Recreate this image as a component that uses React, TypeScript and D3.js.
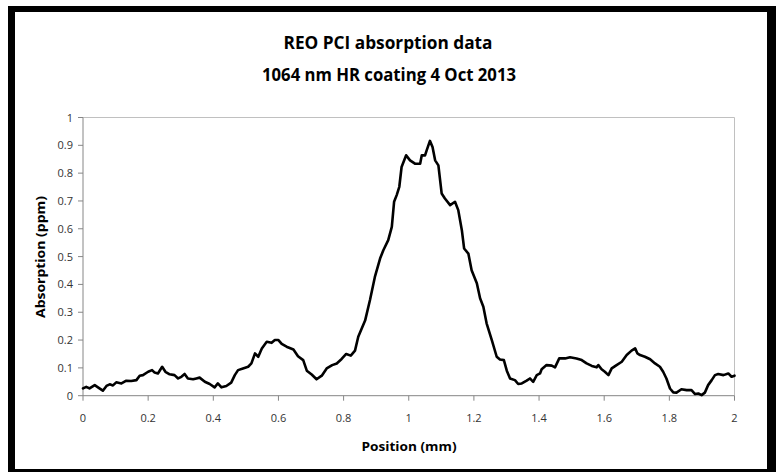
import React from "react";
import * as d3 from "d3";

// PCI scan
const positions = [
  0.0, 0.01, 0.02, 0.036, 0.046, 0.061, 0.072, 0.082, 0.092, 0.102, 0.118, 0.133, 0.148, 0.164,
  0.174, 0.184, 0.2, 0.212, 0.22, 0.23, 0.243, 0.253, 0.266, 0.281, 0.292, 0.302, 0.312, 0.322,
  0.338, 0.348, 0.358, 0.374, 0.389, 0.404, 0.414, 0.425, 0.44, 0.455, 0.466, 0.476, 0.491, 0.507,
  0.517, 0.528, 0.538, 0.549, 0.564, 0.579, 0.589, 0.6, 0.61, 0.625, 0.646, 0.66, 0.676, 0.687,
  0.702, 0.717, 0.733, 0.748, 0.765, 0.779, 0.794, 0.808, 0.822, 0.835, 0.845, 0.855, 0.866,
  0.881, 0.896, 0.912, 0.922, 0.937, 0.948, 0.955, 0.963, 0.971, 0.978, 0.992, 1.004, 1.019,
  1.035, 1.04, 1.05, 1.055, 1.065, 1.073, 1.081, 1.091, 1.101, 1.111, 1.127, 1.142, 1.152, 1.163,
  1.17, 1.183, 1.193, 1.209, 1.219, 1.229, 1.239, 1.255, 1.27, 1.28, 1.292, 1.301, 1.311, 1.326,
  1.336, 1.347, 1.362, 1.372, 1.382, 1.393, 1.403, 1.408, 1.423, 1.439, 1.449, 1.462, 1.48, 1.495,
  1.515, 1.531, 1.546, 1.562, 1.577, 1.582, 1.592, 1.602, 1.613, 1.623, 1.638, 1.654, 1.669,
  1.684, 1.695, 1.702, 1.71, 1.725, 1.741, 1.756, 1.771, 1.781, 1.791, 1.802, 1.812, 1.822, 1.837,
  1.853, 1.868, 1.879, 1.889, 1.899, 1.909, 1.919, 1.93, 1.94, 1.95, 1.966, 1.981, 1.991, 2.0,
];

const absorption = [
  0.026, 0.032, 0.026, 0.038, 0.03, 0.018, 0.035, 0.041, 0.037, 0.048, 0.044, 0.054, 0.053, 0.056,
  0.072, 0.074, 0.086, 0.092, 0.083, 0.08, 0.104, 0.086, 0.077, 0.074, 0.062, 0.068, 0.078, 0.062,
  0.059, 0.062, 0.065, 0.05, 0.042, 0.03, 0.044, 0.03, 0.035, 0.047, 0.074, 0.092, 0.098, 0.104,
  0.116, 0.152, 0.14, 0.17, 0.194, 0.19, 0.2, 0.2, 0.186, 0.176, 0.166, 0.142, 0.128, 0.09,
  0.076, 0.059, 0.072, 0.098, 0.11, 0.116, 0.132, 0.15, 0.144, 0.162, 0.212, 0.24, 0.27,
  0.344, 0.427, 0.493, 0.523, 0.559, 0.607, 0.697, 0.721, 0.751, 0.822, 0.864, 0.846, 0.834,
  0.834, 0.864, 0.864, 0.882, 0.916, 0.894, 0.846, 0.828, 0.727, 0.709, 0.685, 0.697, 0.667, 0.595,
  0.529, 0.511, 0.451, 0.404, 0.35, 0.32, 0.26, 0.2, 0.14, 0.13, 0.128, 0.09, 0.062, 0.056,
  0.042, 0.044, 0.054, 0.062, 0.05, 0.074, 0.08, 0.095, 0.11, 0.108, 0.102, 0.134, 0.134, 0.138,
  0.134, 0.128, 0.116, 0.107, 0.102, 0.11, 0.095, 0.086, 0.074, 0.098, 0.11, 0.122, 0.146,
  0.162, 0.17, 0.152, 0.146, 0.14, 0.131, 0.116, 0.104, 0.086, 0.062, 0.026, 0.012, 0.011, 0.023,
  0.02, 0.02, 0.006, 0.008, 0.002, 0.011, 0.038, 0.056, 0.074, 0.078, 0.074, 0.08, 0.068, 0.072,
];

const xTicks = [0, 0.2, 0.4, 0.6, 0.8, 1, 1.2, 1.4, 1.6, 1.8, 2];
const yTicks = [0, 0.1, 0.2, 0.3, 0.4, 0.5, 0.6, 0.7, 0.8, 0.9, 1];

const titleLines = ["REO PCI absorption data", "1064 nm HR coating  4 Oct 2013"];

const W = 776;
const H = 472;
const plot = { left: 83, right: 734.5, top: 117.5, bottom: 395.7 };
const font = "'Open Sans', 'Noto Sans', sans-serif";
const axisGrey = "#868686";

export default function App() {
  const x = d3.scaleLinear().domain([0, 2]).range([plot.left, plot.right]);
  const y = d3.scaleLinear().domain([0, 1]).range([plot.bottom, plot.top]);

  const points: [number, number][] = positions.map((p, i) => [p, absorption[i]]);
  const line = d3
    .line<[number, number]>()
    .x((d) => x(d[0]))
    .y((d) => y(d[1]));

  const fmt = (v: number) => String(+v.toFixed(1));

  return (
    <svg
      width={W}
      height={H}
      style={{ position: "absolute", left: 0, top: 0, background: "#fff" }}
      fontFamily={font}
    >
      {/* thick black frame round the chart */}
      <rect x={8} y={6} width={W - 8} height={H - 6} fill="#000" />
      <rect x={15} y={12} width={767 - 15} height={469 - 12} fill="#fff" />

      <text
        x={388}
        y={49}
        textAnchor="middle"
        fontSize={17}
        fontWeight="bold"
        textLength={209}
        lengthAdjust="spacingAndGlyphs"
      >
        {titleLines[0]}
      </text>
      <text
        x={389}
        y={81}
        textAnchor="middle"
        fontSize={17}
        fontWeight="bold"
        textLength={254}
        lengthAdjust="spacingAndGlyphs"
      >
        {titleLines[1]}
      </text>

      {/* plot area border: light grey top and right */}
      <line x1={plot.left} x2={plot.right} y1={plot.top} y2={plot.top} stroke="#c0c0c0" />
      <line x1={plot.right} x2={plot.right} y1={plot.top} y2={plot.bottom} stroke="#c0c0c0" />

      {/* y axis */}
      <line x1={plot.left} x2={plot.left} y1={plot.top} y2={plot.bottom} stroke={axisGrey} />
      {yTicks.map((t) => (
        <g key={"y" + t}>
          <line x1={plot.left - 5} x2={plot.left} y1={y(t)} y2={y(t)} stroke={axisGrey} />
          <text x={73} y={y(t) + 4} textAnchor="end" fontSize={11} fill="#333">
            {fmt(t)}
          </text>
        </g>
      ))}

      {/* x axis */}
      <line x1={plot.left} x2={plot.right} y1={plot.bottom} y2={plot.bottom} stroke={axisGrey} />
      {xTicks.map((t) => (
        <g key={"x" + t}>
          <line x1={x(t)} x2={x(t)} y1={plot.bottom} y2={plot.bottom + 5} stroke={axisGrey} />
          <text x={x(t)} y={422} textAnchor="middle" fontSize={11} fill="#333">
            {fmt(t)}
          </text>
        </g>
      ))}

      <path
        d={line(points) || ""}
        fill="none"
        stroke="#000"
        strokeWidth={2.6}
        strokeLinejoin="round"
        strokeLinecap="round"
      />

      <text
        x={409}
        y={451}
        textAnchor="middle"
        fontSize={13}
        fontWeight="bold"
        textLength={95}
        lengthAdjust="spacingAndGlyphs"
      >
        Position (mm)
      </text>
      <text
        transform="translate(45,257) rotate(-90)"
        textAnchor="middle"
        fontSize={13}
        fontWeight="bold"
        textLength={122}
        lengthAdjust="spacingAndGlyphs"
      >
        Absorption (ppm)
      </text>
    </svg>
  );
}
